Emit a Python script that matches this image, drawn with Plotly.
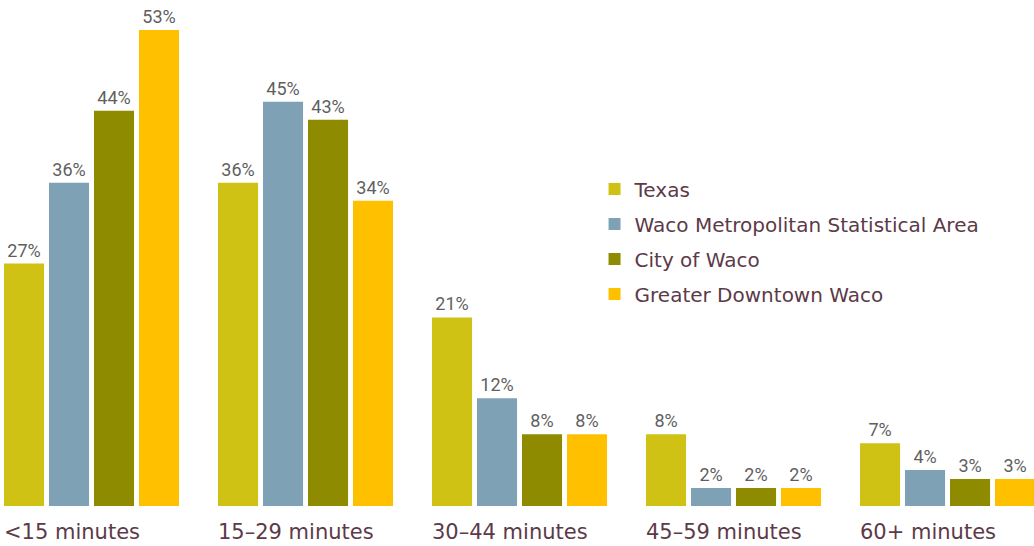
import plotly.graph_objects as go

categories = ["<15 minutes", "15–29 minutes", "30–44 minutes", "45–59 minutes", "60+ minutes"]
series_names = ["Texas", "Waco Metropolitan Statistical Area", "City of Waco", "Greater Downtown Waco"]
texas = [27, 36, 21, 8, 7]
waco_msa = [36, 45, 12, 2, 4]
city_waco = [44, 43, 8, 2, 3]
downtown = [53, 34, 8, 2, 3]
colors = ["#D0C214", "#7FA1B6", "#8E8B00", "#FFC000"]

fig = go.Figure()
for name, vals, col in zip(series_names, [texas, waco_msa, city_waco, downtown], colors):
    fig.add_trace(go.Bar(
        x=categories, y=vals, name=name, legendgroup=name,
        marker=dict(color=col, line=dict(color="#595959", width=0)),
        text=[f"{v}%" for v in vals], textposition="outside",
        textfont=dict(family="Roboto", size=18, color="#5f5f5f"),
        cliponaxis=False,
    ))

for i, c in enumerate(categories):
    fig.add_annotation(x=i, y=0, yref="y", text=c, showarrow=False,
                       xanchor="left", yanchor="top", xshift=-90, yshift=-12,
                       font=dict(family="DejaVu Sans", size=21, color="#5C3A48"))

fig.update_layout(
    width=1034, height=546,
    margin=dict(l=0, r=0, t=0, b=40),
    paper_bgcolor="white", plot_bgcolor="white",
    barmode="group", bargap=0.159, bargroupgap=0.11,
    xaxis=dict(range=[-0.4276, 4.404], showticklabels=False, showgrid=False, zeroline=False, showline=False),
    yaxis=dict(range=[0, 56.34], visible=False),
    legend=dict(x=0.575, y=0.665, xanchor="left", yanchor="top",
                font=dict(family="DejaVu Sans", size=20, color="#5C3A48"),
                bgcolor="rgba(0,0,0,0)", tracegroupgap=6),
    showlegend=True,
)

fig.write_html("out.html", config={"displayModeBar": False},
               post_script="document.body.style.margin='0';")
